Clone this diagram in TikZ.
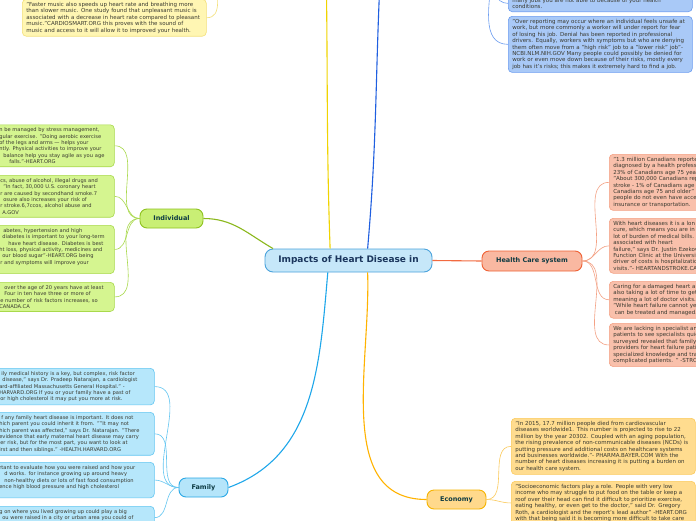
\documentclass[tikz,border=0pt]{standalone}
\usepackage{fontspec}
\setmainfont{DejaVu Sans}
\usetikzlibrary{positioning}

\definecolor{roottext}{HTML}{1B365D}
\definecolor{nodetext}{HTML}{0E3B43}
\definecolor{notetext}{HTML}{3A3A30}
\definecolor{rootfill}{HTML}{C6E7F9}
\definecolor{rootdraw}{HTML}{4BA3DC}
\definecolor{ylwline}{HTML}{F0D400}
\definecolor{ylwfill}{HTML}{FFF6B3}
\definecolor{ylwdraw}{HTML}{F3E07A}
\definecolor{dblue}{HTML}{1F5FE0}
\definecolor{bluefill}{HTML}{A9C9F7}
\definecolor{bluedraw}{HTML}{6B9CF0}
\definecolor{grnline}{HTML}{8BB81C}
\definecolor{grnnodefill}{HTML}{C9EF75}
\definecolor{grnnodedraw}{HTML}{8EC21F}
\definecolor{grnfill}{HTML}{D5F590}
\definecolor{grndraw}{HTML}{A9D94C}
\definecolor{famline}{HTML}{1EA7EA}
\definecolor{famnodefill}{HTML}{B5E5FA}
\definecolor{famnodedraw}{HTML}{2AA8E6}
\definecolor{famfill}{HTML}{B6E7FB}
\definecolor{famdraw}{HTML}{63C6F1}
\definecolor{hcline}{HTML}{F26A40}
\definecolor{hcnodefill}{HTML}{F9B8A1}
\definecolor{hcnodedraw}{HTML}{EF6135}
\definecolor{hcfill}{HTML}{F9C0AB}
\definecolor{hcdraw}{HTML}{F4A285}
\definecolor{ecoline}{HTML}{FFB300}
\definecolor{econodefill}{HTML}{FFD98C}
\definecolor{econodedraw}{HTML}{F6B400}
\definecolor{ecofill}{HTML}{FFDC8F}
\definecolor{ecodraw}{HTML}{FBCA5B}

\begin{document}
\begin{tikzpicture}[x=1pt, y=-1pt,
		root/.style={rectangle, rounded corners=8pt, draw=rootdraw, fill=rootfill, line width=0.9pt, minimum width=167pt, minimum height=23pt, inner sep=0pt, text=roottext, font=\fontsize{9}{10}\selectfont\bfseries},
		topic/.style n args={2}{rectangle, rounded corners=7pt, fill=#1, draw=#2, line width=0.9pt, inner sep=0pt, minimum height=19pt, text=nodetext, font=\fontsize{6.5}{7}\selectfont\bfseries},
		note/.style n args={2}{rectangle, rounded corners=4pt, fill=#1, draw=#2, line width=0.6pt, inner xsep=4pt, inner ysep=3pt, align=left, text=notetext, font=\fontsize{5.5}{6.4}\selectfont, anchor=north west, execute at begin node={\exhyphenpenalty=10000 \hyphenpenalty=10000}},
		cutnote/.style={font=\fontsize{5.15}{6.4}\selectfont},
		branch/.style={line width=1.1pt},
		twig/.style={line width=0.6pt}
		]
		\useasboundingbox (0, 0) rectangle (696, 520);
		\fill[white] (0, 0) rectangle (696, 520);

		% main topics
		\node (impacts) at (348.5, 260.5) [root] {Impacts of Heart Disease in};
		\node (individual) at (171.5, 218.5) [topic={grnnodefill}{grnnodedraw}, minimum width=63pt] {Individual};
		\node (family) at (203.5, 487.5) [topic={famnodefill}{famnodedraw}, minimum width=49pt] {Family};
		\node (health) at (532, 261) [topic={hcnodefill}{hcnodedraw}, minimum width=100pt, minimum height=20pt] {Health Care system};
		\node (economy) at (456.5, 499.5) [topic={econodefill}{econodedraw}, minimum width=59pt] {Economy};
		\coordinate (music) at (326, -40);
		\coordinate (music in) at (218, -25);
		\coordinate (work) at (381, -40);
		\coordinate (work in) at (492, -25);

		% notes
		\node (music 1) at (22, -1) [note={ylwfill}{ylwdraw}, text width=176pt] {"Faster music also speeds up heart rate and breathing more\\than slower music. One study found that unpleasant music is\\associated with a decrease in heart rate compared to pleasant\\music."CARDIOSMART.ORG this proves with the sound of\\music and access to it will allow it to improved your health.};

		\node (work 1) at (508, 12) [note={bluefill}{bluedraw}, text width=176pt, anchor=south west] {many jobs you are not able to because of your health\\conditions.};
		\node (work 2) at (508, 16) [note={bluefill}{bluedraw}, text width=176pt] {"Over reporting may occur where an individual feels unsafe at\\work, but more commonly a worker will under report for fear\\of losing his job. Denial has been reported in professional\\drivers. Equally, workers with symptoms but who are denying\\them often move from a "high risk" job to a "lower risk" job"-\\NCBI.NLM.NIH.GOV Many people could possibly be denied for\\work or even move down because of their risks, mostly every\\job has it's risks; this makes it extremely hard to find a job.};

		\node (individual 1) at (-5, 124.5) [note={grnfill}{grndraw}, cutnote, text width=111pt] {n be managed by stress management,\\gular exercise. "Doing aerobic exercise\\of the legs and arms — helps your\\ntly. Physical activities to improve your\\\hspace*{4pt}balance help you stay agile as you age\\\hspace*{10pt}falls."-HEART.ORG};
		\node (individual 2) at (-5, 175) [note={grnfill}{grndraw}, cutnote, text width=111pt] {\hspace*{1pt}cs, abuse of alcohol, illegal drugs and\\\hspace*{4pt}"In fact, 30,000 U.S. coronary heart\\\hspace*{1pt}r are caused by secondhand smoke.7\\\hspace*{4pt}osure also increases your risk of\\\hspace*{1pt}r stroke.6,7ccos, alcohol abuse and\\\hspace*{3pt}A.GOV};
		\node (individual 3) at (-5, 225) [note={grnfill}{grndraw}, cutnote, text width=111pt] {\hspace*{4pt}abetes, hypertension and high\\\hspace*{3pt}diabetes is important to your long-term\\\hspace*{9pt}have heart disease. Diabetes is best\\ht loss, physical activity, medicines and\\\hspace*{3pt}our blood sugar"-HEART.ORG being\\\hspace*{1pt}r and symptoms will improve your\\\mbox{}};
		\node (individual 4) at (-5, 282) [note={grnfill}{grndraw}, cutnote, text width=111pt] {\hspace*{5pt}over the age of 20 years have at least\\\hspace*{5pt}Four in ten have three or more of\\\hspace*{1pt}e number of risk factors increases, so\\CANADA.CA};

		\node (family 1) at (-5, 368) [note={famfill}{famdraw}, cutnote, text width=151pt] {\hspace*{2pt}ily medical history is a key, but complex, risk factor\\\hspace*{3pt}disease," says Dr. Pradeep Natarajan, a cardiologist\\ard-affiliated Massachusetts General Hospital." -\\HARVARD.ORG If you or your family have a past of\\\hspace*{1pt}or high cholesterol it may put you more at risk.};
		\node (family 2) at (-5, 412) [note={famfill}{famdraw}, cutnote, text width=151pt] {\hspace*{2pt}f any family heart disease is important. It does not\\hich parent you could inherit it from. ""It may not\\hich parent was affected," says Dr. Natarajan. "There\\evidence that early maternal heart disease may carry\\\hspace*{1pt}er risk, but for the most part, you want to look at\\irst and then siblings." -HEALTH.HARVARD.ORG};
		\node (family 3) at (-5, 462) [note={famfill}{famdraw}, cutnote, text width=151pt] {rtant to evaluate how you were raised and how your\\\hspace*{5pt}d works. for instance growing up around heavy\\\hspace*{5pt}non-healthy diets or lots of fast food consumption\\ence high blood pressure and high cholesterol\\\mbox{}};
		\node (family 4) at (-5, 506) [note={famfill}{famdraw}, cutnote, text width=151pt] {g on where you lived growing up could play a big\\\hspace*{3pt}ou were raised in a city or urban area you could of\\\mbox{}};

		\node (health 1) at (609, 154) [note={hcfill}{hcdraw}, text width=120pt] {"1.3 million Canadians reporte\\diagnosed by a health profess\\23\% of Canadians age 75 yea\\"About 300,000 Canadians rep\\stroke - 1\% of Canadians age\\Canadians age 75 and older" -\\people do not even have acce\\insurance or transportation.};
		\node (health 2) at (609, 218) [note={hcfill}{hcdraw}, text width=120pt] {With heart diseases it is a lon\\cure, which means you are in a\\lot of burden of medical bills.\\associated with heart\\failure," says Dr. Justin Ezekov\\Function Clinic at the Universit\\driver of costs is hospitalizatio\\visits."- HEARTANDSTROKE.CA};
		\node (health 3) at (609, 281) [note={hcfill}{hcdraw}, text width=120pt] {Caring for a damaged heart a\\also taking a lot of time to get\\meaning a lot of doctor visits.\\"While heart failure cannot ye\\\hspace*{1.5pt}can be treated and managed.};
		\node (health 4) at (609, 323) [note={hcfill}{hcdraw}, text width=120pt] {We are lacking in specialist an\\patients to see specialists quic\\surveyed revealed that family\\providers for heart failure pati\\specialized knowledge and tra\\complicated patients. " -STRO};

		\node (economy 1) at (511, 418) [note={ecofill}{ecodraw}, text width=176pt] {"In 2015, 17.7 million people died from cardiovascular\\diseases worldwide1. This number is projected to rise to 22\\million by the year 20302. Coupled with an aging population,\\the rising prevalence of non-communicable diseases (NCDs) is\\putting pressure and additional costs on healthcare systems\\and businesses worldwide."- PHARMA.BAYER.COM With the\\number of heart diseases increasing it is putting a burden on\\our health care system.};
		\node (economy 2) at (511, 481) [note={ecofill}{ecodraw}, text width=176pt] {"Socioeconomic factors play a role. People with very low\\income who may struggle to put food on the table or keep a\\roof over their head can find it difficult to prioritize exercise,\\eating healthy, or even get to the doctor," said Dr. Gregory\\Roth, a cardiologist and the report's lead author" -HEART.ORG\\with that being said it is becoming more difficult to take care};

		% branches
		\draw[branch, ylwline] (impacts.147) to[out=92, in=-89] (music);
		\draw[branch, dblue] (impacts.32) to[out=85, in=-93] (work);
		\draw[branch, grnline] (individual.east) to[out=0, in=150] (impacts.171);
		\draw[branch, famline] (impacts.210) to[out=-95, in=20] (family.east);
		\draw[branch, ecoline] (impacts.328) to[out=-88, in=180] (economy.west);
		\draw[branch, hcline] (impacts.east) -- (health.west);

		% twigs
		\draw[twig, ylwdraw] (music 1.east) to[out=0, in=-100] (music in);
		\foreach \n in {1, 2}
			\draw[twig, bluedraw] (work in) to[out=-95, in=180] (work \n.west);
		\foreach \n in {1, ..., 4}
			\draw[twig, grndraw] (individual.west) to[out=180, in=0] (individual \n.east);
		\foreach \n in {1, ..., 4}
			\draw[twig, famdraw] (family.west) to[out=180, in=0] (family \n.east);
		\foreach \n in {1, ..., 4}
			\draw[twig, hcdraw] (health.east) to[out=0, in=180] (health \n.west);
		\foreach \n in {1, 2}
			\draw[twig, ecodraw] (economy.east) to[out=0, in=180] (economy \n.west);
	\end{tikzpicture}
\end{document}
